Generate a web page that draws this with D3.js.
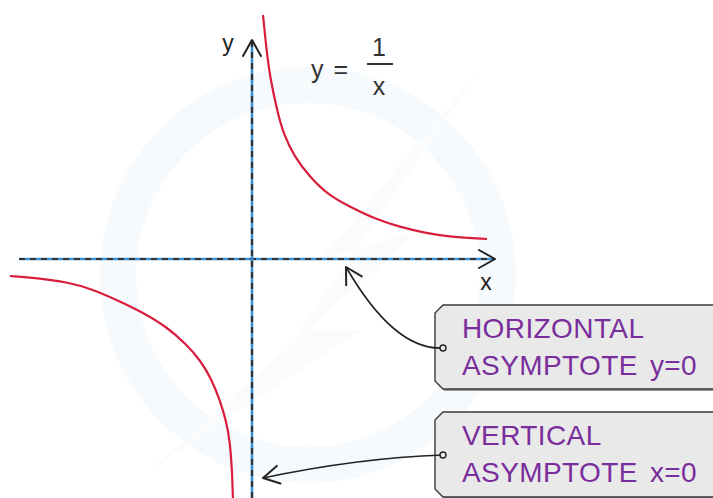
<!DOCTYPE html>
<html>
<head>
<meta charset="utf-8">
<script src="https://cdn.jsdelivr.net/npm/d3@7"></script>
<style>
  html, body { margin: 0; padding: 0; background: #fff; }
  svg { display: block; }
</style>
</head>
<body>
<div id="chart"></div>
<script>
// points, in graph units (about 50px per unit)
var upperX = [0.22, 0.29, 0.36, 0.50, 0.62, 0.85, 1.16, 1.50, 1.96, 2.46, 2.96, 3.46, 3.96, 4.70];
var upperY = [4.88, 4.18, 3.64, 2.98, 2.52, 2.04, 1.64, 1.30, 1.04, 0.80, 0.64, 0.52, 0.44, 0.40];

var lowerX = [-4.84, -4.30, -3.70, -3.20, -2.70, -2.20, -1.70, -1.30, -1.04, -0.82, -0.64, -0.50, -0.44, -0.40, -0.38];
var lowerY = [-0.34, -0.38, -0.46, -0.60, -0.82, -1.06, -1.36, -1.72, -2.02, -2.38, -2.82, -3.30, -3.68, -4.20, -4.82];

var axisLabels = ["x", "y"];
var callouts = [
  ["HORIZONTAL", "ASYMPTOTE y=0"],
  ["VERTICAL", "ASYMPTOTE x=0"]
];

var width = 713, height = 498;

var svg = d3.select("#chart")
  .append("svg")
    .attr("width", width)
    .attr("height", height);

var x = d3.scaleLinear().domain([-5, 5]).range([2, 502]);
var y = d3.scaleLinear().domain([-5, 5]).range([509, 9]);

// faint watermark
svg.append("circle")
  .attr("cx", 308).attr("cy", 275).attr("r", 190)
  .attr("fill", "none")
  .attr("stroke", "#f7fafc")
  .attr("stroke-width", 36);
svg.append("path")
  .attr("d", "M480,70 L320,260 L420,230 L150,470 L360,330 L300,330 Z")
  .attr("fill", "#f9fbfd");

var defs = svg.append("defs");
defs.append("marker")
  .attr("id", "chev")
  .attr("viewBox", "-20 -12 24 24")
  .attr("refX", 0).attr("refY", 0)
  .attr("markerWidth", 24).attr("markerHeight", 24)
  .attr("markerUnits", "userSpaceOnUse")
  .attr("orient", "auto")
  .append("path")
    .attr("d", "M-16,-9 L0,0 L-16,9")
    .attr("fill", "none")
    .attr("stroke", "#222")
    .attr("stroke-width", 2)
    .attr("stroke-linejoin", "round")
    .attr("stroke-linecap", "round");

// axes: blue line with black dashes over it
var axesLines = [
  {x1: -4.66, y1: 0, x2: 4.86, y2: 0},
  {x1: 0, y1: -5, x2: 0, y2: 4.38}
];
axesLines.forEach(function(a) {
  svg.append("line")
    .attr("x1", x(a.x1)).attr("y1", y(a.y1))
    .attr("x2", x(a.x2)).attr("y2", y(a.y2))
    .attr("stroke", "#3b8fd4")
    .attr("stroke-width", 2.6);
  svg.append("line")
    .attr("x1", x(a.x1)).attr("y1", y(a.y1))
    .attr("x2", x(a.x2)).attr("y2", y(a.y2))
    .attr("stroke", "#333")
    .attr("stroke-width", 2.2)
    .attr("stroke-dasharray", "6,5");
  // open arrow head at the positive end
  svg.append("line")
    .attr("x1", x(a.x1)).attr("y1", y(a.y1))
    .attr("x2", x(a.x2)).attr("y2", y(a.y2))
    .attr("stroke", "none")
    .attr("marker-end", "url(#chev)");
});

svg.append("text")
  .attr("x", 486).attr("y", 290)
  .attr("text-anchor", "middle")
  .attr("font-family", "Liberation Sans, Arial, sans-serif")
  .attr("font-size", 23)
  .attr("fill", "#222")
  .text(axisLabels[0]);
svg.append("text")
  .attr("x", 228).attr("y", 51)
  .attr("text-anchor", "middle")
  .attr("font-family", "Liberation Sans, Arial, sans-serif")
  .attr("font-size", 23)
  .attr("fill", "#222")
  .text(axisLabels[1]);

// the two branches of y = 1/x
var line = d3.line()
  .x(function(d) { return x(d[0]); })
  .y(function(d) { return y(d[1]); })
  .curve(d3.curveBasis);

var branches = [d3.zip(upperX, upperY), d3.zip(lowerX, lowerY)];
svg.selectAll("path.branch")
  .data(branches)
  .enter()
  .append("path")
    .attr("class", "branch")
    .attr("d", line)
    .attr("fill", "none")
    .attr("stroke", "#d81e3c")
    .attr("stroke-width", 2.2);

// equation label
var eq = svg.append("g")
  .attr("font-family", "Liberation Sans, Arial, sans-serif")
  .attr("font-size", 25)
  .attr("fill", "#333");
eq.append("text").attr("x", 311).attr("y", 78).attr("word-spacing", 3).text("y =");
eq.append("text").attr("x", 379).attr("y", 56).attr("text-anchor", "middle").text("1");
eq.append("line")
  .attr("x1", 367).attr("x2", 393).attr("y1", 64).attr("y2", 64)
  .attr("stroke", "#333").attr("stroke-width", 2);
eq.append("text").attr("x", 379).attr("y", 95).attr("text-anchor", "middle").text("x");

// callout boxes
var boxes = [
  {top: 305, bottom: 389, dot: [443, 348], arrow: "M443,348 C405,350 372,312 346,267", lines: callouts[0]},
  {top: 412, bottom: 497, dot: [443, 455], arrow: "M443,455 C385,457 320,466 263,478", lines: callouts[1]}
];

boxes.forEach(function(b) {
  var x0 = 435, x1 = 730, c = 8;
  var shape = "M" + (x0 + c) + "," + b.top + " L" + x1 + "," + b.top +
    " L" + x1 + "," + b.bottom + " L" + (x0 + c) + "," + b.bottom +
    " L" + x0 + "," + (b.bottom - c) + " L" + x0 + "," + (b.top + c) + " Z";
  svg.append("path")
    .attr("d", shape)
    .attr("transform", "translate(1.5,2)")
    .attr("fill", "#9a9a9a");
  svg.append("path")
    .attr("d", shape)
    .attr("fill", "#e9e9ea")
    .attr("stroke", "#3a3a3a")
    .attr("stroke-width", 1.4);

  svg.append("path")
    .attr("d", b.arrow)
    .attr("fill", "none")
    .attr("stroke", "#222")
    .attr("stroke-width", 1.6)
    .attr("marker-end", "url(#chev)");

  svg.append("circle")
    .attr("cx", b.dot[0]).attr("cy", b.dot[1]).attr("r", 3)
    .attr("fill", "#e9e9ea")
    .attr("stroke", "#222")
    .attr("stroke-width", 1.4);

  b.lines.forEach(function(t, i) {
    svg.append("text")
      .attr("x", 462)
      .attr("y", b.top + 33 + i * 37)
      .attr("font-family", "Liberation Sans, Arial, sans-serif")
      .attr("font-size", 28)
      .attr("letter-spacing", 0.4)
      .attr("word-spacing", 4)
      .attr("fill", "#7a2e9c")
      .text(t);
  });
});
</script>
</body>
</html>
